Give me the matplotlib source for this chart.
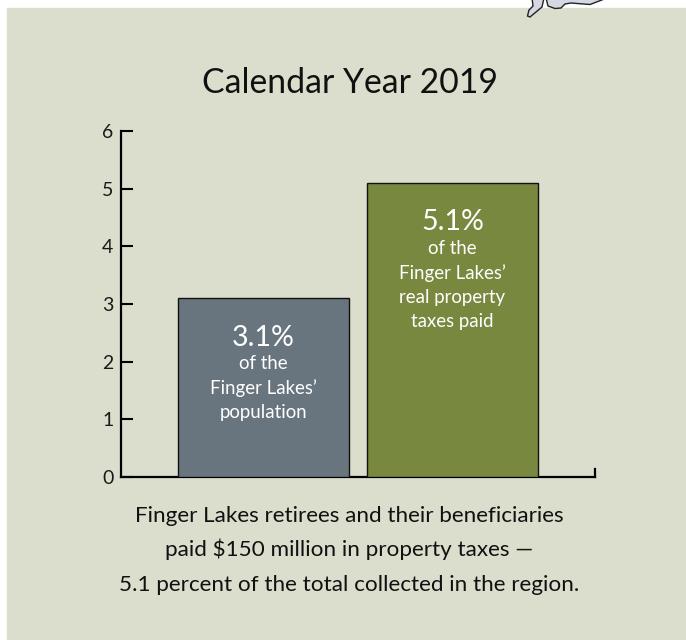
import matplotlib
matplotlib.use("Agg")
import matplotlib.pyplot as plt
from matplotlib.patches import Polygon, Rectangle

categories = ["population", "real property taxes paid"]
values = [3.1, 5.1]
bar_colors = ["#69757e", "#78893f"]
yticks = [0, 1, 2, 3, 4, 5, 6]
bar_notes = ["of the\nFinger Lakes\u2019\npopulation",
             "of the\nFinger Lakes\u2019\nreal property\ntaxes paid"]
caption = ["Finger Lakes retirees and their beneficiaries",
           "paid $150 million in property taxes \u2014",
           "5.1 percent of the total collected in the region."]

W, H = 686, 640
PANEL = "#dcdecd"

plt.rcParams['font.family'] = ['Lato', 'DejaVu Sans']

fig = plt.figure(figsize=(W / 100, H / 100), dpi=100, facecolor="white")


def fig_poly(points, closed=True):
    return Polygon([(x / W, 1 - y / H) for x, y in points], closed=closed,
                   transform=fig.transFigure, facecolor="#d4d8e2",
                   edgecolor="#222222", linewidth=1.0, zorder=1)


# background panel, leaves a white strip on the top and left
fig.add_artist(Rectangle((7 / W, 0), 1 - 7 / W, 1 - 8 / H,
                         transform=fig.transFigure, color=PANEL, zorder=0))

# corner of the state outline poking in from above
fig.add_artist(fig_poly([(532, -2), (533, 6), (529, 10), (527.5, 16), (530, 17),
                         (542, 7), (544, -2)]))
fig.add_artist(fig_poly([(546, -2), (548, 6), (555, 8.5), (561, 8), (565, 4),
                         (571, 3), (590, 4.5), (607, -2)]))

ax = fig.add_axes([121 / W, 1 - 477 / H, (595 - 121) / W, (477 - 131) / H],
                  zorder=5)
ax.patch.set_alpha(0)
ax.set_xlim(121, 595)
ax.set_ylim(0, 6)

lefts = [178, 367]
bar_w = 171
ax.bar(lefts, values, width=bar_w, align="edge", color=bar_colors,
       edgecolor="#111111", linewidth=1.0, zorder=3)

ax.spines["top"].set_visible(False)
ax.spines["left"].set_linewidth(1.6)
ax.spines["bottom"].set_linewidth(1.6)
ax.spines["right"].set_linewidth(1.6)
ax.spines["right"].set_bounds(0, 0.14)

ax.set_xticks([])
ax.set_yticks(yticks)
ax.tick_params(axis="y", direction="in", length=8.5, width=1.5, pad=5.5,
               labelsize=14, labelcolor="#1a1a1a")

# labels inside the bars
for left, val, note in zip(lefts, values, bar_notes):
    cx = left + bar_w / 2
    ax.annotate("%.1f%%" % val, (cx, val), xytext=(0, -28.5),
                textcoords="offset points", ha="center", va="center",
                color="white", fontsize=20.5, zorder=4)
    ax.annotate(note, (cx, val), xytext=(0, -41),
                textcoords="offset points", ha="center", va="top",
                color="white", fontsize=13.4, linespacing=1.5, zorder=4)

fig.text(350 / W, 1 - 83 / H, "Calendar Year 2019", ha="center", va="center",
         fontsize=24.3, color="#111111")

for y, line in zip([516, 549, 585], caption):
    fig.text(349 / W, 1 - y / H, line, ha="center", va="center",
             fontsize=16.2, color="#111111")

fig.savefig("out.png", dpi=100, facecolor="white")
